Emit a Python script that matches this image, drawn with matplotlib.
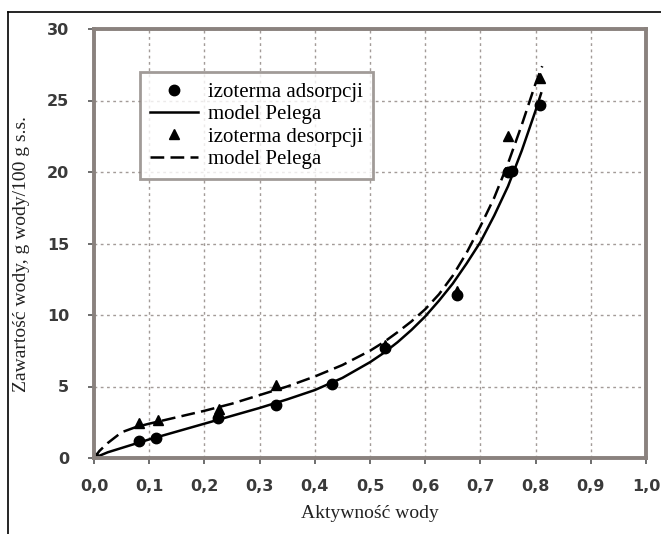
import matplotlib
matplotlib.use("Agg")
import matplotlib.pyplot as plt
from matplotlib.lines import Line2D
from matplotlib.ticker import FuncFormatter

# Data
ads_aw = [0.0, 0.081, 0.112, 0.224, 0.329, 0.432, 0.528, 0.658, 0.750, 0.757, 0.808]
ads_m = [0.0, 1.2, 1.4, 2.8, 3.7, 5.2, 7.7, 11.4, 20.0, 20.1, 24.7]
des_aw = [0.0, 0.081, 0.116, 0.226, 0.329, 0.528, 0.658, 0.750, 0.808]
des_m = [0.0, 2.45, 2.65, 3.4, 5.1, 7.9, 11.7, 22.5, 26.6]

# Model curves (Peleg)
mod_ads_aw = [0.0, 0.025, 0.05, 0.075, 0.1, 0.15, 0.2, 0.25, 0.3, 0.35, 0.4, 0.45, 0.5,
              0.525, 0.55, 0.575, 0.6, 0.625, 0.65, 0.675, 0.7, 0.725, 0.75, 0.775, 0.8, 0.81]
mod_ads_m = [0.0, 0.4, 0.7, 1.0, 1.3, 1.85, 2.4, 2.95, 3.5, 4.1, 4.75, 5.6, 6.7,
             7.35, 8.1, 8.95, 9.9, 11.0, 12.2, 13.6, 15.1, 16.95, 19.0, 21.5, 24.3, 25.5]
mod_des_aw = [0.0, 0.01, 0.025, 0.05, 0.075, 0.1, 0.15, 0.2, 0.25, 0.3, 0.35, 0.4, 0.45, 0.5,
              0.525, 0.55, 0.575, 0.6, 0.625, 0.65, 0.675, 0.7, 0.725, 0.75, 0.775, 0.8, 0.812]
mod_des_m = [0.0, 0.5, 1.05, 1.8, 2.15, 2.4, 2.85, 3.3, 3.8, 4.4, 5.0, 5.7, 6.5, 7.5,
             8.1, 8.8, 9.55, 10.4, 11.45, 12.75, 14.35, 16.2, 18.2, 20.6, 23.3, 26.2, 27.4]

xticks = [0.0, 0.1, 0.2, 0.3, 0.4, 0.5, 0.6, 0.7, 0.8, 0.9, 1.0]
yticks = [0, 5, 10, 15, 20, 25, 30]

spine_col = "#8a827e"
fig = plt.figure(figsize=(6.61, 5.34), dpi=100)
ax = fig.add_axes([94/661, 1-458/534, (646-94)/661, (458-29)/534])

ax.plot(mod_ads_aw, mod_ads_m, color="black", lw=1.8, solid_joinstyle="round")
ax.plot(mod_des_aw, mod_des_m, color="black", lw=1.8, dashes=(5.5, 2.5))
ax.plot(ads_aw, ads_m, "o", color="black", ms=7.5, ls="none")
ax.plot(des_aw, des_m, "^", color="black", ms=7.5, ls="none")

ax.set_xlim(0, 1.0)
ax.set_ylim(0, 30)
ax.set_xticks(xticks)
ax.set_yticks(yticks)
ax.xaxis.set_major_formatter(FuncFormatter(lambda v, p: f"{v:.1f}".replace(".", ",")))
ax.grid(True, color="#a39b98", ls=(0, (2, 2.5)), lw=1.0)
ax.set_axisbelow(True)
for s in ax.spines.values():
    s.set_color(spine_col)
    s.set_linewidth(2.8)
ax.tick_params(axis="both", direction="out", length=4, width=1.2, color="#555", labelsize=11.5,
               labelcolor="#3a3a3a", pad=11)
ax.tick_params(axis="y", pad=14)
for lab in ax.get_xticklabels() + ax.get_yticklabels():
    lab.set_fontweight("bold")

serif = ["Liberation Serif", "DejaVu Serif"]
ax.set_xlabel("Aktywność wody", family=serif, fontsize=14, labelpad=8, color="#222")
fig.text(22/661, 1-254/534, "Zawartość wody, g wody/100 g s.s.", rotation=90, family=serif,
         fontsize=14, ha="center", va="center", color="#222")

handles = [
    Line2D([], [], marker="o", color="black", ls="none", ms=7.5),
    Line2D([], [], color="black", lw=1.8),
    Line2D([], [], marker="^", color="black", ls="none", ms=7.5),
    Line2D([], [], color="black", lw=1.8, dashes=(5.5, 2.5)),
]
labels = ["izoterma adsorpcji", "model Pelega", "izoterma desorpcji", "model Pelega"]
leg = ax.legend(handles, labels, loc="upper left", bbox_to_anchor=((140-94)/552, (458-72)/429),
                prop={"family": serif, "size": 15}, frameon=True, fancybox=False,
                edgecolor=spine_col, handlelength=2.3, labelspacing=0.13, borderpad=0.5,
                handletextpad=0.45, borderaxespad=0)
leg.get_frame().set_linewidth(2.0)

# outer frame lines (left and top)
fig.add_artist(Line2D([8/661, 8/661], [0, 1-12/534], transform=fig.transFigure, color="black", lw=1.2))
fig.add_artist(Line2D([8/661, 1], [1-12/534, 1-12/534], transform=fig.transFigure, color="black", lw=1.2))

fig.savefig("out.png", dpi=100)
